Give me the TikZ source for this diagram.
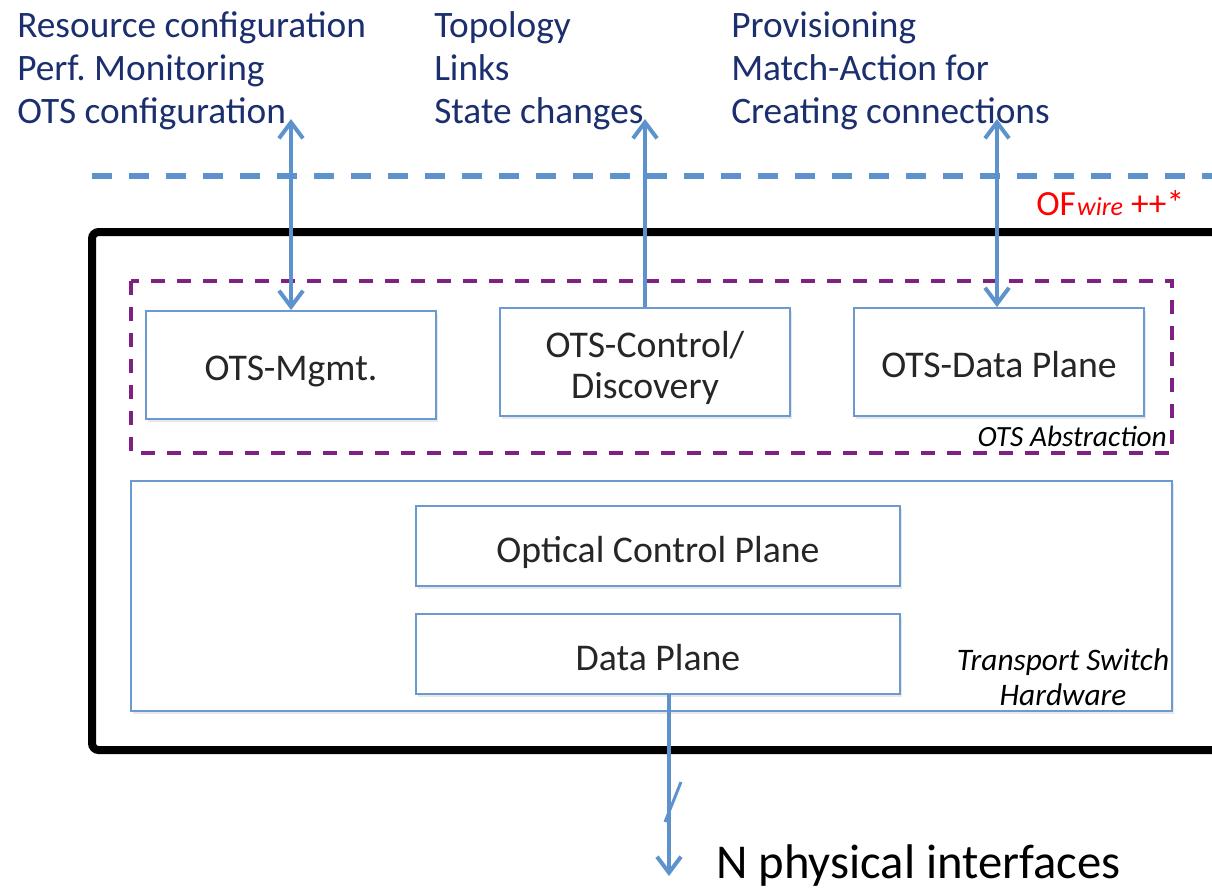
\documentclass[tikz,border=0pt]{standalone}
\usepackage{fontspec}
\setmainfont{Carlito}
\usetikzlibrary{arrows.meta,shadows}
\definecolor{navy}{HTML}{1B2F6E}
\definecolor{lineblue}{HTML}{5E92CC}
\definecolor{boxblue}{HTML}{6A9AD0}
\definecolor{purp}{HTML}{7E2183}
\definecolor{txtgray}{HTML}{262626}
\tikzset{
  toplabel/.style={anchor=base west,inner sep=0pt,text=navy,font=\fontsize{28}{33}\selectfont},
  otsbox/.style={draw=boxblue,line width=1.4pt,fill=white,inner sep=0pt,
    drop shadow={opacity=0.18,shadow xshift=1.5pt,shadow yshift=-2pt}},
  boxtext/.style={anchor=base,inner sep=0pt,text=txtgray,font=\fontsize{28.3}{33}\selectfont},
  conn/.style={draw=lineblue,line width=3pt},
  barbtip/.tip={Straight Barb[length=12pt,width=18pt,line width=3pt]},
  noteit/.style={inner sep=0pt,text=black,font=\fontsize{23.5}{28}\selectfont\itshape}
}
\begin{document}
\begin{tikzpicture}[x=0.75pt,y=-0.75pt]
\useasboundingbox (0,0) rectangle (1212,890);
% top labels
\node[toplabel] (a1) at (17,37) {Resource configuration};
\node[toplabel] (a2) at (17,80) {Perf.\ Monitoring};
\node[toplabel] (a3) at (17,123) {OTS configuration};
\node[toplabel] (b1) at (434,37) {Topology};
\node[toplabel] (b2) at (434,80) {Links};
\node[toplabel] (b3) at (434,123) {State changes};
\node[toplabel] (c1) at (731,37) {Provisioning};
\node[toplabel] (c2) at (731,80) {Match-Action for};
\node[toplabel] (c3) at (731,123) {Creating connections};
% dashed OF line
\coordinate (dl) at (92,176);
\coordinate (dr) at (1230,176);
\draw[draw=lineblue,line width=3.8pt,dash pattern=on 15pt off 12.75pt] (dl) -- (dr);
% OFwire label
\node[anchor=base west,inner sep=0pt,text=red,font=\fontsize{26.5}{30}\selectfont] (of) at (1036,215)
  {OF\hspace{1pt}{\fontsize{19.5}{22}\selectfont\itshape wire} ++*};
% black outer box
\draw[line width=6pt,rounded corners=5pt,fill=white,
  drop shadow={opacity=0.15,shadow xshift=1.5pt,shadow yshift=-2pt}] (92,232) rectangle (1250,750);
% purple dashed abstraction box
\draw[draw=purp,line width=3pt,dash pattern=on 10.5pt off 9pt] (131,281) rectangle (1172,453);
\node[noteit,font=\fontsize{22}{26}\selectfont\itshape,anchor=base east] (abs) at (1167,446) {OTS Abstraction};
% hardware box
\node[otsbox,minimum width=780.75pt,minimum height=172.5pt] (hw) at (651.5,596) {};
\node[noteit,anchor=base] (hwl1) at (1063,670) {Transport Switch};
\node[noteit,anchor=base] (hwl2) at (1063,705) {Hardware};
% inner boxes
\node[otsbox,minimum width=217.5pt,minimum height=81pt] (mg) at (291,365) {};
\node[boxtext] (mgt) at (291,380) {OTS-Mgmt.};
\node[otsbox,minimum width=217.5pt,minimum height=81pt] (ctl) at (645,362) {};
\node[boxtext] (ctlt1) at (645,357) {OTS-Control/};
\node[boxtext] (ctlt2) at (645,398) {Discovery};
\node[otsbox,minimum width=217.5pt,minimum height=81pt] (dpl) at (999,362) {};
\node[boxtext] (dplt) at (999,377) {OTS-Data Plane};
\node[otsbox,minimum width=363pt,minimum height=60pt] (ocp) at (658,546) {};
\node[boxtext] (ocpt) at (658,562) {Optical Control Plane};
\node[otsbox,minimum width=363pt,minimum height=60pt] (dp) at (658,654) {};
\node[boxtext] (dpt) at (658,670) {Data Plane};
% arrows
\coordinate (ta) at (291,119);
\coordinate (tb) at (645,119);
\coordinate (tc) at (997,119);
\draw[conn,barbtip-barbtip] (ta) -- (mg.north);
\draw[conn,-barbtip] (ctl.north) -- (tb);
\draw[conn,barbtip-barbtip] (tc) -- (tc |- dpl.north);
\coordinate (dpo) at (669,694);
\coordinate (nif) at (669,876);
\draw[conn,-barbtip] (dpo) -- (nif);
\coordinate (s1) at (665,822);
\coordinate (s2) at (681,782);
\draw[draw=lineblue,line width=2.2pt] (s1) -- (s2);
\node[anchor=base west,inner sep=0pt,text=black,font=\fontsize{36.5}{42}\selectfont] (nphys) at (716,878) {N physical interfaces};
\end{tikzpicture}
\end{document}
